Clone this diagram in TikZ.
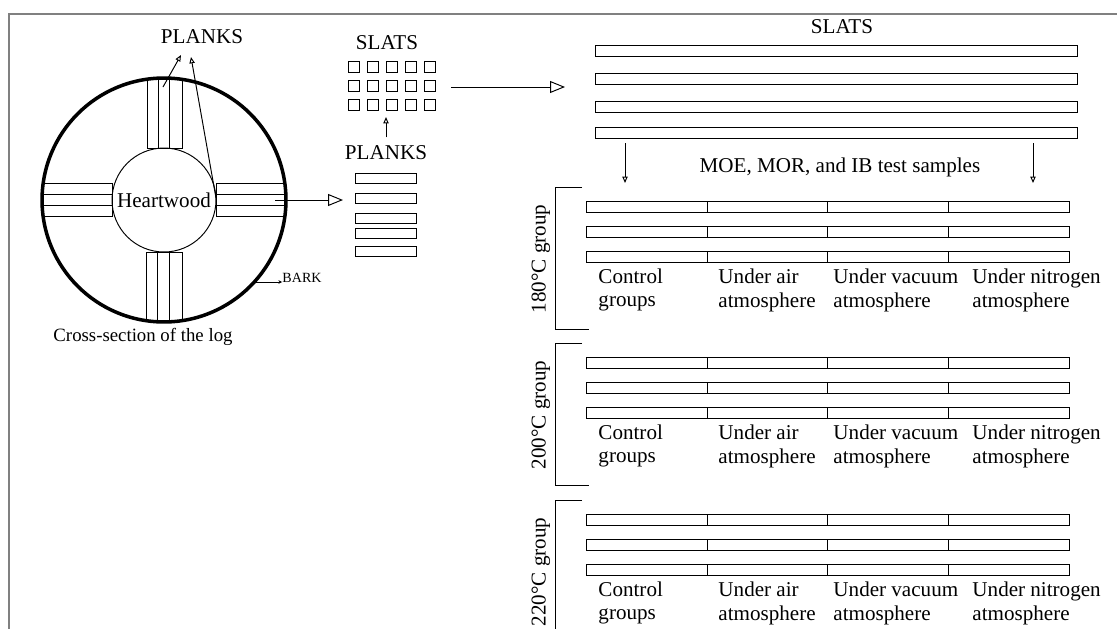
\documentclass[tikz,border=0pt]{standalone}
\usepackage{fontspec}
\setmainfont{Liberation Serif}
\usetikzlibrary{arrows.meta}

\tikzset{
  bigtip/.style={-{Triangle[open,length=8.5pt,width=6.8pt]}},
  smalltip/.style={-{Triangle[open,length=3.6pt,width=3pt]}},
  txt/.style={font=\fontsize{12}{13.6}\selectfont, inner sep=0pt},
  tiny/.style={font=\fontsize{8}{9}\selectfont, inner sep=0pt},
}

\begin{document}
\begin{tikzpicture}[x=0.02cm, y=-0.02cm, line width=0.55pt]
    \useasboundingbox (0,0) rectangle (1117,629);

    % frame
    \draw[gray, line width=1.1pt] (9,629) -- (9,14) -- (1117,14);

    % log cross-section
    \begin{scope}
    \clip (164,200) circle[radius=2.44cm];
    \draw (147,60) rectangle (182,148);
    \draw (158,60) -- (158,148);
    \draw (169,60) -- (169,148);
    \draw (146,252) rectangle (182,340);
    \draw (157,252) -- (157,340);
    \draw (169,252) -- (169,340);
    \draw (20,183) rectangle (112,216);
    \draw (20,194) -- (112,194);
    \draw (20,205) -- (112,205);
    \draw (216,183) rectangle (310,216);
    \draw (216,194) -- (310,194);
    \draw (216,205) -- (310,205);
    \end{scope}
    \node[circle, draw, line width=2pt, minimum size=4.88cm, inner sep=0pt] (log) at (164,200) {};
    \node[circle, draw, minimum size=2.08cm, inner sep=0pt, txt] (heart) at (164,200) {Heartwood};
    \node[txt, font=\fontsize{10.7}{12}\selectfont] (logcap) at (143,337) {Cross-section of the log};

    \node[tiny, anchor=west] (bark) at (282,278) {BARK};
    \coordinate (barkin) at (256,282);
    \draw[-{Stealth[length=2pt,width=2pt]}] (barkin) -- (bark.west |- barkin);

    \node[txt] (plankstop) at (202,37) {PLANKS};
    \coordinate (pl1) at (163,87);
    \coordinate (pl2) at (216,198);
    \draw[smalltip] (pl1) -- (181,55);
    \draw[smalltip] (pl2) -- (191,57);

    % planks from the log
    \coordinate (cut) at (275,200);
    \coordinate (stackin) at (343,200);
    \draw[bigtip] (cut) -- (stackin);
    \foreach \y in {173,193,213,228,246}
    \draw (355,\y) rectangle (416,\y+10);
    \node[txt] (planksmid) at (386,153) {PLANKS};

    % slats cut from the planks
    \node[txt] (slatsmid) at (387,43) {SLATS};
    \foreach \x in {348,367,386,405,424}
    \foreach \y in {61,80,99}
    \draw (\x,\y) rectangle (\x+11,\y+11);
    \coordinate (slatsbot) at (386,117);
    \draw[smalltip] (planksmid.north) ++(0,-8) -- (slatsbot);
    \coordinate (gridout) at (451,87);
    \coordinate (longin) at (565,87);
    \draw[bigtip] (gridout) -- (longin);

    % long slats
    \node[txt] (slatstop) at (842,27) {SLATS};
    \foreach \y in {45,73,101,127}
    \draw (595,\y) rectangle (1077,\y+11);
    \coordinate (dl) at (625,143);
    \coordinate (dr) at (1033,143);
    \draw[smalltip] (dl) -- (625,183);
    \draw[smalltip] (dr) -- (1033,183);
    \node[txt] (samples) at (840,167) {MOE, MOR, and IB test samples};

    % treatment groups
    \foreach \g/\t in {0/180, 156/200, 313/220} {
    \draw (582,{187+\g}) -- (555,{187+\g}) -- (555,{329+\g}) -- (589,{329+\g});
    \node[txt, rotate=90] (grp\t) at (541,{259+\g}) {\t°C group};
    \foreach \y in {201,226,251} {
    \draw (586,{\y+\g}) rectangle (1069,{\y+11+\g});
    \foreach \x in {707,827,948}
    \draw (\x,{\y+\g}) -- (\x,{\y+11+\g});
    }
    \node[txt, anchor=west, align=left] (ctl\t) at (598,{290+\g}) {Control\\groups};
    \node[txt, anchor=west, align=left] (air\t) at (718,{290+\g}) {Under air\\atmosphere};
    \node[txt, anchor=west, align=left] (vac\t) at (833,{290+\g}) {Under vacuum\\atmosphere};
    \node[txt, anchor=west, align=left] (nit\t) at (972,{290+\g}) {Under nitrogen\\atmosphere};
    }
\end{tikzpicture}
\end{document}
